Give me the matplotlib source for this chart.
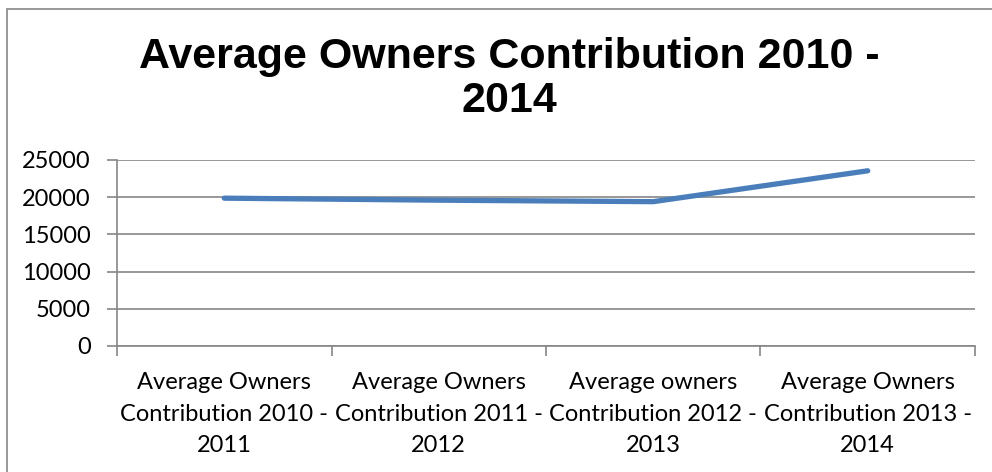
import matplotlib.pyplot as plt
from matplotlib.patches import Rectangle

categories = ["Average Owners\nContribution 2010 -\n2011",
              "Average Owners\nContribution 2011 -\n2012",
              "Average owners\nContribution 2012 -\n2013",
              "Average Owners\nContribution 2013 -\n2014"]
values = [19870, 19600, 19400, 23550]
yticks = [0, 5000, 10000, 15000, 20000, 25000]

grey = "#868686"

fig = plt.figure(figsize=(9.92, 4.72), dpi=100)
fig.patches.append(Rectangle((7 / 992, -0.1), 1.2, (472 - 9) / 472 + 0.1,
                             transform=fig.transFigure, fill=False,
                             edgecolor=grey, linewidth=1.2))

ax = fig.add_axes([117 / 992, 126 / 472, 858 / 992, 186 / 472])
x = [0.5, 1.5, 2.5, 3.5]
ax.plot(x, values, color="#4a7ebb", linewidth=3.8, solid_capstyle="round")

ax.set_xlim(0, 4)
ax.set_ylim(0, 25000)
ax.set_yticks(yticks)
ax.set_yticklabels([str(v) for v in yticks], fontsize=17, family="Lato")
ax.yaxis.grid(True, color=grey, linewidth=1.2)
ax.set_axisbelow(True)

ax.set_xticks([0, 1, 2, 3, 4])
ax.set_xticklabels([])
ax.set_xticks(x, minor=True)
ax.set_xticklabels(categories, minor=True, fontsize=17, family="Lato",
                   linespacing=1.6)
ax.tick_params(axis="x", which="minor", length=0, pad=19)
ax.tick_params(axis="x", which="major", length=7, color=grey, width=1.2)
ax.tick_params(axis="y", length=7, color=grey, width=1.2, pad=12)

for s in ["top", "right"]:
    ax.spines[s].set_visible(False)
for s in ["left", "bottom"]:
    ax.spines[s].set_color(grey)
    ax.spines[s].set_linewidth(1.2)

fig.text(0.513, 0.833, "Average Owners Contribution 2010 -\n2014", ha="center",
         va="center", fontsize=31, fontweight="bold",
         family="Liberation Sans", linespacing=1.12)

fig.savefig("out.png", dpi=100)
